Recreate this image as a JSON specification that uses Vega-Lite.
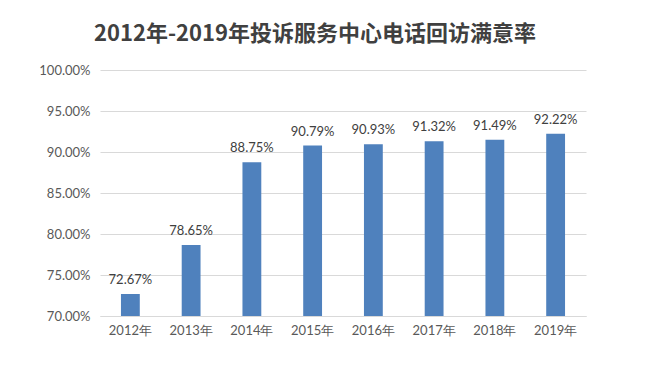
{
  "$schema": "https://vega.github.io/schema/vega-lite/v6.json",
  "autosize": "none",
  "width": 486,
  "height": 246,
  "padding": {"left": 100, "top": 70, "right": 85, "bottom": 49},
  "background": "#ffffff",
  "title": {
    "text": "2012年-2019年投诉服务中心电话回访满意率",
    "font": "Noto Sans CJK SC",
    "fontSize": 22,
    "fontWeight": "bold",
    "color": "#404040",
    "anchor": "middle",
    "dx": -28,
    "offset": 18
  },
  "data": {
    "values": [
      {"year": "2012年", "rate": 0.7267},
      {"year": "2013年", "rate": 0.7865},
      {"year": "2014年", "rate": 0.8875},
      {"year": "2015年", "rate": 0.9079},
      {"year": "2016年", "rate": 0.9093},
      {"year": "2017年", "rate": 0.9132},
      {"year": "2018年", "rate": 0.9149},
      {"year": "2019年", "rate": 0.9222}
    ]
  },
  "encoding": {
    "x": {
      "field": "year",
      "type": "nominal",
      "sort": null,
      "scale": {"paddingInner": 0.69, "paddingOuter": 0.345},
      "axis": {
        "title": null,
        "labelAngle": 0,
        "labelFont": "Lato",
        "labelFontSize": 13,
        "labelColor": "#595959",
        "labelPadding": 8,
        "ticks": false,
        "domainColor": "#D9D9D9",
        "domainWidth": 1
      }
    },
    "y": {
      "field": "rate",
      "type": "quantitative",
      "scale": {"domain": [0.7, 1.0], "zero": false, "nice": false},
      "axis": {
        "title": null,
        "format": ".2%",
        "values": [0.7, 0.75, 0.8, 0.85, 0.9, 0.95, 1.0],
        "labelFont": "Lato",
        "labelFontSize": 13,
        "labelColor": "#595959",
        "labelPadding": 10,
        "ticks": false,
        "domain": false,
        "gridColor": "#D9D9D9",
        "gridWidth": 1
      }
    }
  },
  "layer": [
    {
      "mark": {"type": "bar", "color": "#4F81BD"},
      "encoding": {"y2": {"datum": 0.7}}
    },
    {
      "mark": {"type": "text", "baseline": "bottom", "dy": -7, "font": "Lato", "fontSize": 13, "color": "#404040"},
      "encoding": {"text": {"field": "rate", "type": "quantitative", "format": ".2%"}}
    }
  ],
  "config": {"view": {"stroke": null}}
}
